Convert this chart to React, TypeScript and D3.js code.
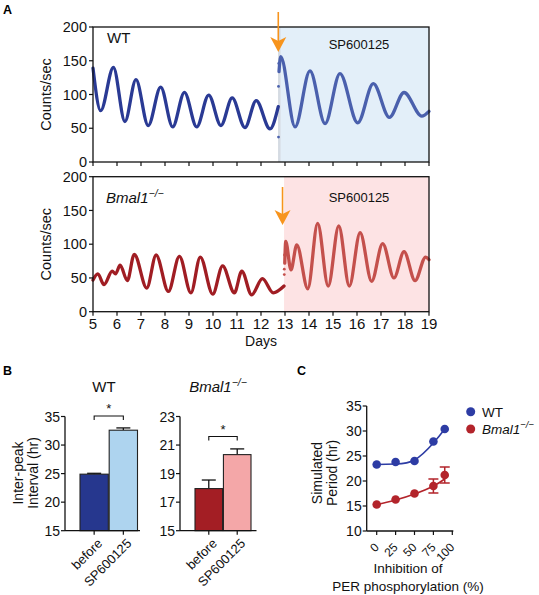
import React from 'react';
import * as d3 from 'd3';

const FONT = '"Liberation Sans", Arial, Helvetica, sans-serif';

// ---------- Panel A data ----------
const dayTicks = [5, 6, 7, 8, 9, 10, 11, 12, 13, 14, 15, 16, 17, 18, 19];
const countTicks = [0, 50, 100, 150, 200];

const wtBefore: [number, number][] = [
  [5.0, 139], [5.32, 76], [5.85, 140], [6.33, 60], [6.79, 122], [7.3, 54], [7.82, 111],
  [8.32, 52], [8.81, 103], [9.32, 52], [9.82, 99], [10.33, 54], [10.8, 95], [11.33, 51],
  [11.8, 91], [12.375, 49], [12.72, 82],
];
const wtAfter: [number, number][] = [
  [12.75, 134], [12.82, 156], [13.42, 52], [14.04, 135], [14.67, 57], [15.29, 131],
  [16.03, 58], [16.68, 116], [17.35, 66], [17.96, 103], [18.7, 68], [19.0, 75],
];
const wtDots: [number, number][] = [[12.73, 37], [12.73, 112], [12.74, 146]];

const bmalBefore: [number, number][] = [
  [5.0, 47], [5.2, 56], [5.46, 40], [5.8, 60], [5.94, 56], [6.13, 69], [6.43, 46],
  [6.72, 85], [7.24, 35], [7.63, 84], [8.14, 30], [8.6, 82], [9.08, 28], [9.47, 81],
  [9.99, 26], [10.4, 68], [10.89, 28], [11.2, 60], [11.61, 25], [12.06, 49], [12.51, 28],
  [12.96, 38],
];
const bmalAfter: [number, number][] = [
  [12.99, 72], [13.03, 104], [13.25, 62], [13.49, 99], [13.95, 34], [14.36, 131],
  [14.8, 38], [15.24, 127], [15.68, 38], [16.13, 117], [16.61, 45], [17.07, 101],
  [17.54, 50], [17.96, 89], [18.42, 46], [18.86, 81], [19.0, 77],
];
const bmalDots: [number, number][] = [[12.97, 55], [12.97, 63], [12.98, 84]];

const wtTreatDay = 12.72;
const bmalTreatDay = 12.96;

// ---------- Panel B data ----------
const barCats = ['before', 'SP600125'];
const wtBarMeans = [24.9, 32.6];
const wtBarErr = [0.15, 0.4];
const wtBarTicks = [15, 20, 25, 30, 35];
const bmalBarMeans = [17.95, 20.33];
const bmalBarErr = [0.6, 0.4];
const bmalBarTicks = [15, 17, 19, 21, 23];

// ---------- Panel C data ----------
const inhibTicks = [0, 25, 50, 75, 100];
const inhibX = [0, 25, 50, 75, 90];
const simWT = [23.3, 23.8, 24.0, 27.9, 30.4];
const simWTErr = [0, 0, 0, 0, 0];
const simBmal = [15.3, 16.3, 17.5, 19.0, 21.2];
const simBmalErr = [0, 0, 0, 1.4, 1.6];
const fitX = [0, 25, 50, 75, 90];
const fitWT = [23.3, 23.4, 24.2, 27.6, 30.4];
const fitBmal = [15.3, 16.2, 17.4, 19.0, 20.4];
const periodTicks = [10, 15, 20, 25, 30, 35];

const C = {
  wtDark: '#2a3a94',
  wtLight: '#4a60ad',
  bmDark: '#a01d23',
  bmLight: '#c4504c',
  shadeBlue: '#e3eff9',
  shadePink: '#fde3e4',
  orange: '#f7941d',
  barWT1: '#26378e',
  barWT2: '#aed4ef',
  barBM1: '#a31e24',
  barBM2: '#f4a7a8',
  ptWT: '#2d3ca4',
  ptBM: '#b3242b',
};

function Sup({ text }: { text: string }) {
  return (
    <>
      <tspan>{text}</tspan>
      <tspan dy={-6} fontSize="0.7em">−/−</tspan>
    </>
  );
}

function TracePanel(props: {
  yTopPx: number; yBotPx: number; before: [number, number][]; after: [number, number][];
  dots: [number, number][]; treatDay: number; shade: string; cBefore: string; cAfter: string;
  label: React.ReactNode; arrowTop: number; arrowTip: number; showXLabels: boolean; edge?: boolean;
}) {
  const x = d3.scaleLinear().domain([5, 19]).range([93, 429]);
  const y = d3.scaleLinear().domain([0, 200]).range([props.yBotPx, props.yTopPx]);
  const line = d3.line<[number, number]>().x(d => x(d[0])).y(d => y(d[1])).curve(d3.curveMonotoneX);
  const ax = x(props.treatDay) + (props.edge ? 0 : -1.5);
  const tip = props.arrowTip;
  return (
    <g>
      <rect x={x(props.treatDay)} y={props.yTopPx} width={x(19) - x(props.treatDay)}
        height={props.yBotPx - props.yTopPx} fill={props.shade} />
      {props.edge && (
        <line x1={x(props.treatDay) + 1} x2={x(props.treatDay) + 1} y1={props.yTopPx} y2={props.yBotPx}
          stroke="#d5dbe3" strokeWidth={2.5} />
      )}
      <path d={line(props.before) || ''} fill="none" stroke={props.cBefore} strokeWidth={3.3} strokeLinejoin="round" strokeLinecap="round" />
      <path d={line(props.after) || ''} fill="none" stroke={props.cAfter} strokeWidth={3.3} strokeLinejoin="round" strokeLinecap="round" />
      {props.dots.map((d, i) => (
        <circle key={i} cx={x(d[0])} cy={y(d[1])} r={1.4} fill={props.cAfter} />
      ))}
      <rect x={93} y={props.yTopPx} width={336} height={props.yBotPx - props.yTopPx} fill="none" stroke="#111" strokeWidth={1.3} />
      {countTicks.map(t => (
        <g key={t}>
          <line x1={89} x2={93} y1={y(t)} y2={y(t)} stroke="#111" strokeWidth={1.2} />
          <text x={87} y={y(t)} dy="0.35em" textAnchor="end" fontSize={14.5} fontFamily={FONT} fill="#111">{t}</text>
        </g>
      ))}
      {dayTicks.map(t => (
        <g key={t}>
          <line x1={x(t)} x2={x(t)} y1={props.yBotPx} y2={props.yBotPx + 4} stroke="#111" strokeWidth={1.2} />
          {props.showXLabels && (
            <text x={x(t)} y={props.yBotPx + 17} textAnchor="middle" fontSize={15} fontFamily={FONT} fill="#111">{t}</text>
          )}
        </g>
      ))}
      <text transform={`translate(51,${(props.yTopPx + props.yBotPx) / 2}) rotate(-90)`} textAnchor="middle"
        fontSize={14.5} fontFamily={FONT} fill="#111">Counts/sec</text>
      {props.label}
      <line x1={ax} x2={ax} y1={props.arrowTop} y2={tip - 8} stroke={C.orange} strokeWidth={1.6} />
      <path d={`M${ax - 8},${tip - 15} L${ax},${tip - 11} L${ax + 8},${tip - 15} L${ax},${tip} Z`} fill={C.orange} />
    </g>
  );
}

function BarPanel(props: {
  axisX0: number; axisX1: number; bar0: number; bar1: number; ticks: number[]; means: number[];
  errs: number[]; colors: string[]; title: React.ReactNode; titleX: number; bracketY: number;
}) {
  const yTop = 416.5, yBot = 530.7;
  const y = d3.scaleLinear().domain([props.ticks[0], props.ticks[props.ticks.length - 1]]).range([yBot, yTop]);
  const xb = d3.scaleBand<string>().domain(barCats).range([props.bar0, props.bar1]).paddingInner(0.03);
  const cx = (c: string) => (xb(c) as number) + xb.bandwidth() / 2;
  return (
    <g fontFamily={FONT} fill="#111">
      <text x={props.titleX} y={392} textAnchor="middle" fontSize={15}>{props.title}</text>
      {barCats.map((c, i) => (
        <g key={c}>
          <line x1={cx(c)} x2={cx(c)} y1={y(props.means[i])} y2={y(props.means[i] + props.errs[i])} stroke="#111" strokeWidth={1.3} />
          <line x1={cx(c) - 7} x2={cx(c) + 7} y1={y(props.means[i] + props.errs[i])} y2={y(props.means[i] + props.errs[i])} stroke="#111" strokeWidth={1.3} />
          <rect x={xb(c)} y={y(props.means[i])} width={xb.bandwidth()} height={yBot - y(props.means[i])}
            fill={props.colors[i]} stroke="#222" strokeWidth={1.1} />
          <line x1={cx(c)} x2={cx(c)} y1={yBot} y2={yBot + 4} stroke="#111" strokeWidth={1.2} />
          <text transform={`translate(${cx(c) + 9},${yBot + 13.5}) rotate(-45)`} textAnchor="end" fontSize={13}>{c}</text>
        </g>
      ))}
      <line x1={props.axisX0} x2={props.axisX0} y1={yTop} y2={yBot} stroke="#111" strokeWidth={1.3} />
      <line x1={props.axisX0} x2={props.axisX1} y1={yBot} y2={yBot} stroke="#111" strokeWidth={1.3} />
      {props.ticks.map(t => (
        <g key={t}>
          <line x1={props.axisX0 - 4} x2={props.axisX0} y1={y(t)} y2={y(t)} stroke="#111" strokeWidth={1.2} />
          <text x={props.axisX0 - 5} y={y(t)} dy="0.36em" textAnchor="end" fontSize={14}>{t}</text>
        </g>
      ))}
      <path d={`M${cx(barCats[0])},${props.bracketY + 4} V${props.bracketY} H${cx(barCats[1])} V${props.bracketY + 4}`}
        fill="none" stroke="#111" strokeWidth={1.1} />
      <text x={(cx(barCats[0]) + cx(barCats[1])) / 2} y={props.bracketY - 3} textAnchor="middle" fontSize={13}>*</text>
    </g>
  );
}

function PanelC() {
  const x = d3.scaleLinear().domain([0, 100]).range([376.7, 452.3]);
  const y = d3.scaleLinear().domain([10, 35]).range([531, 406]);
  const fit = d3.line<number>().x((_, i) => x(fitX[i])).y(d => y(d)).curve(d3.curveNatural);
  const axX0 = 366.7, axX1 = 453.3;
  const errPath = (v: number, m: number, e: number) =>
    `M${x(v) - 5},${y(m + e)} H${x(v) + 5} M${x(v)},${y(m + e)} V${y(m - e)} M${x(v) - 5},${y(m - e)} H${x(v) + 5}`;
  return (
    <g fontFamily={FONT} fill="#111">
      <line x1={axX0} x2={axX0} y1={406} y2={531} stroke="#111" strokeWidth={1.3} />
      <line x1={axX0} x2={axX1} y1={531} y2={531} stroke="#111" strokeWidth={1.3} />
      {periodTicks.map(t => (
        <g key={t}>
          <line x1={axX0 - 4} x2={axX0} y1={y(t)} y2={y(t)} stroke="#111" strokeWidth={1.2} />
          <text x={axX0 - 5} y={y(t)} dy="0.36em" textAnchor="end" fontSize={14}>{t}</text>
        </g>
      ))}
      {inhibTicks.map(t => (
        <g key={t}>
          <line x1={x(t)} x2={x(t)} y1={531} y2={535} stroke="#111" strokeWidth={1.2} />
          <text transform={`translate(${x(t) + 3},${548}) rotate(-45)`} textAnchor="end" fontSize={12}>{t}</text>
        </g>
      ))}
      <path d={fit(fitWT) || ''} fill="none" stroke={C.ptWT} strokeWidth={1.6} />
      <path d={fit(fitBmal) || ''} fill="none" stroke={C.ptBM} strokeWidth={1.6} />
      {inhibX.map((v, i) => (
        <g key={'w' + i}>
          {simWTErr[i] > 0 && <path d={errPath(v, simWT[i], simWTErr[i])} stroke={C.ptWT} strokeWidth={1.5} fill="none" />}
          <circle cx={x(v)} cy={y(simWT[i])} r={4.3} fill={C.ptWT} />
        </g>
      ))}
      {inhibX.map((v, i) => (
        <g key={'b' + i}>
          {simBmalErr[i] > 0 && <path d={errPath(v, simBmal[i], simBmalErr[i])} stroke={C.ptBM} strokeWidth={1.5} fill="none" />}
          <circle cx={x(v)} cy={y(simBmal[i])} r={4.3} fill={C.ptBM} />
        </g>
      ))}
      <text transform={`translate(322,${473}) rotate(-90)`} textAnchor="middle" fontSize={14}>Simulated</text>
      <text transform={`translate(337,${473}) rotate(-90)`} textAnchor="middle" fontSize={14}>Period (hr)</text>
      <text x={408} y={573} textAnchor="middle" fontSize={13.5}>Inhibition of</text>
      <text x={408} y={590.5} textAnchor="middle" fontSize={13.5}>PER phosphorylation (%)</text>
      <circle cx={470.7} cy={411.7} r={4.5} fill={C.ptWT} />
      <text x={482} y={416.5} fontSize={13.5}>WT</text>
      <circle cx={470.7} cy={429} r={4.5} fill={C.ptBM} />
      <text x={482} y={434} fontSize={13.5} fontStyle="italic"><Sup text="Bmal1" /></text>
    </g>
  );
}

export default function App() {
  return (
    <svg width={539} height={595} viewBox="0 0 539 595" style={{ position: 'absolute', left: 0, top: 0, background: '#fff' }}>
      <rect width={539} height={595} fill="#fff" />
      <text x={3} y={13.5} fontSize={12.5} fontWeight="bold" fontFamily={FONT}>A</text>
      <TracePanel yTopPx={27} yBotPx={162} before={wtBefore} after={wtAfter} dots={wtDots}
        treatDay={wtTreatDay} shade={C.shadeBlue} cBefore={C.wtDark} cAfter={C.wtLight}
        arrowTop={12} arrowTip={52} showXLabels={false} edge={true}
        label={<g fontFamily={FONT} fill="#111">
          <text x={107} y={43} fontSize={15}>WT</text>
          <text x={359} y={49} fontSize={13} textAnchor="middle">SP600125</text>
        </g>} />
      <TracePanel yTopPx={176.7} yBotPx={311.7} before={bmalBefore} after={bmalAfter} dots={bmalDots}
        treatDay={bmalTreatDay} shade={C.shadePink} cBefore={C.bmDark} cAfter={C.bmLight}
        arrowTop={187} arrowTip={225} showXLabels={true}
        label={<g fontFamily={FONT} fill="#111">
          <text x={106} y={203} fontSize={15} fontStyle="italic"><Sup text="Bmal1" /></text>
          <text x={359} y={202} fontSize={13} textAnchor="middle">SP600125</text>
        </g>} />
      <text x={261} y={346} textAnchor="middle" fontSize={14} fontFamily={FONT} fill="#111">Days</text>

      <text x={3} y={375} fontSize={12.5} fontWeight="bold" fontFamily={FONT}>B</text>
      <text x={297} y={375} fontSize={12.5} fontWeight="bold" fontFamily={FONT}>C</text>
      <g fontFamily={FONT} fill="#111">
        <text transform="translate(23,473) rotate(-90)" textAnchor="middle" fontSize={14}>Inter-peak</text>
        <text transform="translate(38,473) rotate(-90)" textAnchor="middle" fontSize={14}>Interval (hr)</text>
      </g>
      <BarPanel axisX0={65} axisX1={140} bar0={80} bar1={137.5} ticks={wtBarTicks} means={wtBarMeans}
        errs={wtBarErr} colors={[C.barWT1, C.barWT2]} title="WT" titleX={104} bracketY={416} />
      <BarPanel axisX0={180} axisX1={256.5} bar0={195} bar1={251} ticks={bmalBarTicks} means={bmalBarMeans}
        errs={bmalBarErr} colors={[C.barBM1, C.barBM2]} title={<tspan fontStyle="italic"><Sup text="Bmal1" /></tspan>}
        titleX={218} bracketY={436.5} />
      <PanelC />
    </svg>
  );
}
